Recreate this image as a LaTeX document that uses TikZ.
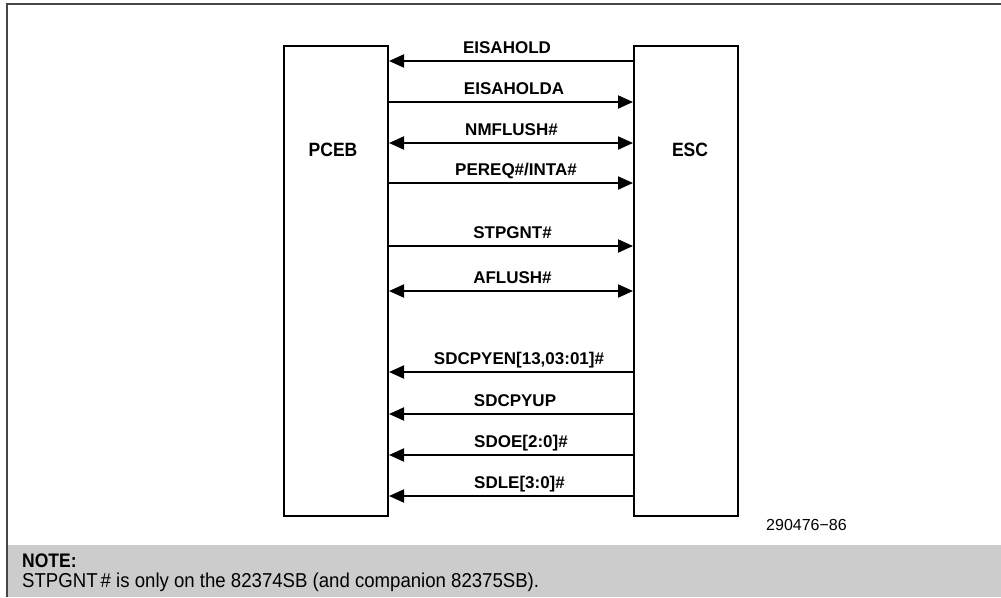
\documentclass[tikz,border=0pt]{standalone}
\usepackage{fontspec}
\setmainfont{Liberation Sans}
\usetikzlibrary{arrows.meta}
\definecolor{notegray}{RGB}{204,204,204}
\definecolor{framegray}{RGB}{70,70,70}
\begin{document}
\begin{tikzpicture}[x=1pt,y=-1pt,
  chip/.style={draw=black, line width=2pt, minimum width=104pt, minimum height=470pt, inner sep=0pt},
  chiplabel/.style={font=\fontsize{17.5}{20}\selectfont\bfseries, inner sep=0pt},
  siglabel/.style={font=\fontsize{17}{20}\selectfont\bfseries, inner sep=0pt, anchor=base},
  sig/.style={line width=2pt, draw=black},
  toesc/.style={sig, -{Triangle[length=15pt, width=13pt]}},
  topceb/.style={sig, {Triangle[length=15pt, width=13pt]}-},
  both/.style={sig, {Triangle[length=15pt, width=13pt]}-{Triangle[length=15pt, width=13pt]}},
  notetext/.style={font=\fontsize{18.6}{20}\selectfont, inner sep=0pt, anchor=base west}
]
\useasboundingbox (0,0) rectangle (1001,597);
% frame and note band
\fill[notegray] (7,545) rectangle (1001,597);
\draw[framegray, line width=1.5pt] (7,597) -- (7,4) -- (1001,4);

% chips
\node[chip] (pceb) at (336,281) {};
\node[chip] (esc) at (686,281) {};
\node[chiplabel] (pcebtxt) at (333,150) {\scalebox{1}[1.1]{PCEB}};
\node[chiplabel] (esctxt) at (690,150) {\scalebox{1}[1.1]{ESC}};

% signal rows
\coordinate (r1) at (0,61);
\coordinate (r2) at (0,102);
\coordinate (r3) at (0,143);
\coordinate (r4) at (0,183);
\coordinate (r5) at (0,246);
\coordinate (r6) at (0,291);
\coordinate (r7) at (0,372);
\coordinate (r8) at (0,414);
\coordinate (r9) at (0,455);
\coordinate (r10) at (0,496);

\draw[topceb] (pceb.east |- r1) -- (esc.west |- r1);
\draw[toesc] (pceb.east |- r2) -- (esc.west |- r2);
\draw[both] (pceb.east |- r3) -- (esc.west |- r3);
\draw[toesc] (pceb.east |- r4) -- (esc.west |- r4);
\draw[toesc] (pceb.east |- r5) -- (esc.west |- r5);
\draw[both] (pceb.east |- r6) -- (esc.west |- r6);
\draw[topceb] (pceb.east |- r7) -- (esc.west |- r7);
\draw[topceb] (pceb.east |- r8) -- (esc.west |- r8);
\draw[topceb] (pceb.east |- r9) -- (esc.west |- r9);
\draw[topceb] (pceb.east |- r10) -- (esc.west |- r10);

\node[siglabel] (l1) at (507,53) {EISAHOLD};
\node[siglabel] (l2) at (514,94) {EISAHOLDA};
\node[siglabel] (l3) at (511.5,135) {NMFLUSH\#};
\node[siglabel] (l4) at (516,175) {PEREQ\#/INTA\#};
\node[siglabel] (l5) at (512.5,238) {STPGNT\#};
\node[siglabel] (l6) at (512.5,283) {AFLUSH\#};
\node[siglabel] (l7) at (519,364) {SDCPYEN[13,03:01]\#};
\node[siglabel] (l8) at (515,406) {SDCPYUP};
\node[siglabel] (l9) at (521,447) {SDOE[2:0]\#};
\node[siglabel] (l10) at (519.5,488) {SDLE[3:0]\#};

% figure id
\node[font=\fontsize{16}{18}\selectfont, inner sep=0pt, anchor=base west] (figid) at (766,530) {290476−86};

% note
\node[notetext, font=\fontsize{17.5}{20}\selectfont\bfseries] (notehead) at (22,567) {\scalebox{1}[1.12]{NOTE:}};
\node[notetext] (notebody) at (22,587) {\scalebox{1}[1.08]{STPGNT\,\# is only on the 82374SB (and companion 82375SB).}};
\end{tikzpicture}
\end{document}
